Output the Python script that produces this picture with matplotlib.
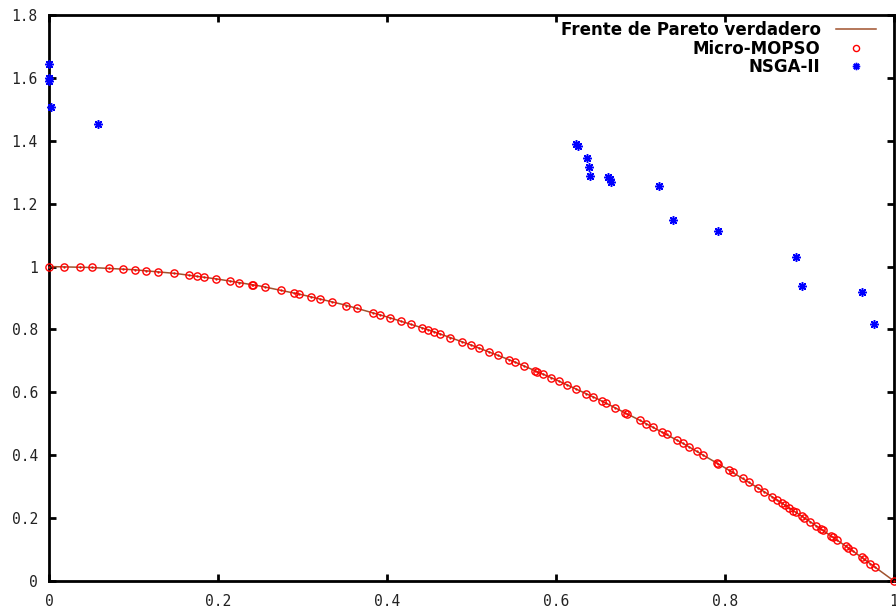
import matplotlib.pyplot as plt

# true Pareto front
front_x = [0.0, 0.05, 0.1, 0.15, 0.2, 0.25, 0.3, 0.35, 0.4, 0.45, 0.5,
           0.55, 0.6, 0.65, 0.7, 0.75, 0.8, 0.85, 0.9, 0.95, 1.0]
front_y = [1.0, 0.997, 0.99, 0.978, 0.96, 0.938, 0.91, 0.878, 0.84, 0.798, 0.75,
           0.698, 0.64, 0.578, 0.51, 0.438, 0.36, 0.278, 0.19, 0.098, 0.0]

# Micro-MOPSO solutions
mopso_x = [0.0, 0.018, 0.037, 0.051, 0.071, 0.088, 0.102, 0.115, 0.129, 0.148,
           0.166, 0.175, 0.184, 0.198, 0.214, 0.225, 0.240, 0.242, 0.256, 0.275,
           0.290, 0.296, 0.310, 0.321, 0.335, 0.352, 0.364, 0.383, 0.392, 0.404,
           0.417, 0.428, 0.441, 0.449, 0.456, 0.463, 0.475, 0.489, 0.499, 0.509,
           0.521, 0.531, 0.544, 0.552, 0.562, 0.575, 0.578, 0.585, 0.594, 0.604,
           0.613, 0.624, 0.636, 0.644, 0.654, 0.659, 0.670, 0.682, 0.684, 0.699,
           0.707, 0.715, 0.725, 0.731, 0.743, 0.750, 0.757, 0.767, 0.774, 0.790,
           0.792, 0.805, 0.809, 0.821, 0.828, 0.839, 0.846, 0.856, 0.861, 0.867,
           0.871, 0.876, 0.881, 0.884, 0.891, 0.894, 0.901, 0.908, 0.914, 0.916,
           0.925, 0.928, 0.932, 0.943, 0.946, 0.952, 0.962, 0.964, 0.972, 0.978,
           1.0]
mopso_y = [1.0, 1.0, 0.999, 0.997, 0.995, 0.992, 0.990, 0.987, 0.983, 0.978,
           0.972, 0.969, 0.966, 0.961, 0.954, 0.949, 0.942, 0.941, 0.934, 0.924,
           0.916, 0.912, 0.904, 0.897, 0.888, 0.876, 0.868, 0.853, 0.846, 0.837,
           0.826, 0.817, 0.806, 0.798, 0.792, 0.786, 0.774, 0.761, 0.751, 0.741,
           0.729, 0.718, 0.704, 0.695, 0.684, 0.669, 0.666, 0.658, 0.647, 0.635,
           0.624, 0.611, 0.596, 0.585, 0.572, 0.566, 0.551, 0.535, 0.532, 0.511,
           0.500, 0.489, 0.474, 0.466, 0.448, 0.438, 0.427, 0.412, 0.401, 0.376,
           0.373, 0.352, 0.346, 0.326, 0.314, 0.296, 0.284, 0.267, 0.259, 0.248,
           0.241, 0.233, 0.224, 0.219, 0.206, 0.201, 0.188, 0.176, 0.165, 0.161,
           0.144, 0.139, 0.131, 0.111, 0.105, 0.094, 0.075, 0.071, 0.055, 0.044,
           0.0]

# NSGA-II solutions
nsga_x = [0.0, 0.0, 0.0, 0.002, 0.058, 0.624, 0.626, 0.637, 0.639, 0.640,
          0.661, 0.664, 0.665, 0.722, 0.738, 0.792, 0.884, 0.891, 0.962, 0.976]
nsga_y = [1.645, 1.600, 1.590, 1.506, 1.452, 1.390, 1.384, 1.344, 1.318, 1.287,
          1.286, 1.277, 1.270, 1.257, 1.148, 1.113, 1.029, 0.939, 0.918, 0.816]

x_ticks = [0, 0.2, 0.4, 0.6, 0.8, 1]
x_labels = ['0', '0.2', '0.4', '0.6', '0.8', '1']
y_ticks = [0, 0.2, 0.4, 0.6, 0.8, 1, 1.2, 1.4, 1.6, 1.8]
y_labels = ['0', '0.2', '0.4', '0.6', '0.8', '1', '1.2', '1.4', '1.6', '1.8']

fig = plt.figure(figsize=(8.96, 6.09), dpi=100)
ax = fig.add_axes([49/896, 28/609, 845/896, 566/609])

ax.plot(front_x, front_y, color='#a0522d', lw=1.1, label='Frente de Pareto verdadero', zorder=2)
ax.plot(mopso_x, mopso_y, ls='none', marker='o', ms=5.2, mfc='none', mec='#ff0000',
        mew=1.0, label='Micro-MOPSO', clip_on=False, zorder=3)
ax.plot(mopso_x, mopso_y, ls='none', marker='.', ms=1.3, color='#ff0000', clip_on=False, zorder=3)
ax.plot(nsga_x, nsga_y, ls='none', marker=(8, 2, 0), ms=6.2, color='#0000ff', mew=1.1,
        label='NSGA-II', clip_on=False, zorder=4)

ax.set_xlim(0, 1)
ax.set_ylim(0, 1.8)
ax.set_xticks(x_ticks)
ax.set_xticklabels(x_labels)
ax.set_yticks(y_ticks)
ax.set_yticklabels(y_labels)

for s in ax.spines.values():
    s.set_linewidth(2.0)
ax.tick_params(direction='in', length=5, width=2, top=True, right=True,
               labelsize=10.5, labelcolor='#222222')
ax.tick_params(axis='x', pad=9)
ax.tick_params(axis='y', pad=8)
for lab in ax.get_xticklabels() + ax.get_yticklabels():
    lab.set_family('DejaVu Sans Mono')

leg = ax.legend(loc='upper right', bbox_to_anchor=(0.988, 1.004), frameon=False,
                markerfirst=False, handlelength=2.4, handletextpad=0.9,
                labelspacing=0.03, borderaxespad=0.1, markerscale=0.85,
                prop={'family': 'DejaVu Sans', 'weight': 'bold', 'size': 12})

fig.savefig('out.png', dpi=100)
